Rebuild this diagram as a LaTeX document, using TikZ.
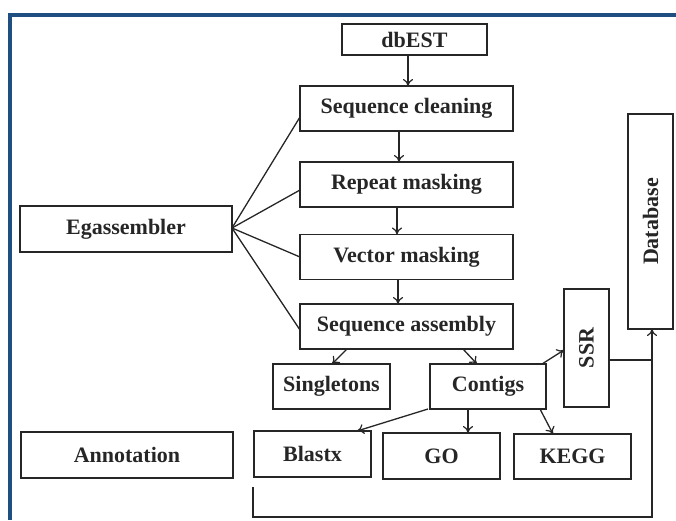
\documentclass[tikz,border=0pt]{standalone}
\usepackage{fontspec}
\setmainfont{Liberation Serif}
\usetikzlibrary{arrows.meta}
\definecolor{frameblue}{HTML}{1F4E80}
\definecolor{ink}{HTML}{262626}
\begin{document}
\begin{tikzpicture}[x=1pt,y=-1pt,
  box/.style={draw=ink,line width=1.8pt,inner sep=0pt,outer sep=0pt,
    font=\fontsize{22}{25}\selectfont\bfseries,text=ink},
  lbl/.style={font=\fontsize{22}{25}\selectfont\bfseries,text=ink,rotate=90},
  conn/.style={draw=ink,line width=1.3pt},
  arr/.style={conn,-{To[length=7pt,width=10pt,line width=1.2pt]}}]
\useasboundingbox (0,0) rectangle (676,520);
% frame
\fill[frameblue] (8,13) rectangle (676,17);
\fill[frameblue] (8,13) rectangle (12,520);
% nodes
\node[box,minimum width=145pt,minimum height=31pt] (db0) at (414.5,39.5) {dbEST};
\node[box,minimum width=213pt,minimum height=45pt] (sc) at (406.5,108.5) {Sequence cleaning};
\node[box,minimum width=213pt,minimum height=45pt] (rm) at (406.5,184.5) {Repeat masking};
\node[box,minimum width=213pt,minimum height=45pt] (vm) at (406.5,257) {Vector masking};
\node[box,minimum width=213pt,minimum height=45pt] (sa) at (406.5,326.5) {Sequence assembly};
\node[box,minimum width=212pt,minimum height=46pt] (eg) at (126,229) {Egassembler};
\node[box,minimum width=117pt,minimum height=45pt] (sing) at (331.5,386.5) {Singletons};
\node[box,minimum width=116pt,minimum height=45pt] (cont) at (488,386.5) {Contigs};
\node[box,minimum width=45pt,minimum height=118pt] (ssr) at (586.5,348) {};
\node[lbl] (ssrt) at (ssr.center) {SSR};
\node[box,minimum width=45pt,minimum height=215pt] (db) at (650.5,221.5) {};
\node[lbl] (dbt) at (db.center) {Database};
\node[box,minimum width=212pt,minimum height=46pt] (ann) at (127,455) {Annotation};
\node[box,minimum width=117pt,minimum height=46pt] (bl) at (312.5,454) {Blastx};
\node[box,minimum width=117pt,minimum height=46pt] (go) at (441.5,456) {GO};
\node[box,minimum width=117pt,minimum height=45pt] (kegg) at (572.5,456.5) {KEGG};
% vertical flow
\draw[arr] ([xshift=-6.5pt]db0.south) -- ([xshift=1.5pt]sc.north);
\draw[arr] ([xshift=-7.5pt]sc.south) -- ([xshift=-7.5pt]rm.north);
\draw[arr] ([xshift=-9.5pt]rm.south) -- ([xshift=-9.5pt]vm.north);
\draw[arr] ([xshift=-8.5pt]vm.south) -- ([xshift=-8.5pt]sa.north);
% egassembler fan
\coordinate (fan) at ([yshift=1pt]eg.east);
\draw[conn] (fan) -- ([yshift=-8.5pt]sc.west);
\draw[conn] (fan) -- ([yshift=-5.5pt]rm.west);
\draw[conn] (fan) -- (vm.west);
\draw[conn] (fan) -- ([yshift=-3.5pt]sa.west);
% assembly outputs
\draw[arr] ([xshift=-59.5pt]sa.south) -- ([xshift=0.5pt]sing.north);
\draw[arr] ([xshift=56.5pt]sa.south) -- ([xshift=-11pt]cont.north);
\draw[arr] ([xshift=-2pt]cont.south west) -- ([xshift=44.5pt]bl.north);
\draw[arr] ([xshift=-20pt]cont.south) -- ([xshift=26.5pt]go.north);
\draw[arr] ([xshift=52pt]cont.south) -- ([xshift=-19.5pt]kegg.north);
\draw[arr] ([xshift=54pt]cont.north) -- ([yshift=-2pt]ssr.west);
% to database
\draw[conn] ([yshift=-12pt]ssr.east) -- ++(43pt,0);
\draw[arr] ([shift={(-1pt,-10pt)}]bl.south west) |- ([shift={(1.5pt,-188pt)}]db.south) -- ([xshift=1.5pt]db.south);
\end{tikzpicture}
\end{document}
